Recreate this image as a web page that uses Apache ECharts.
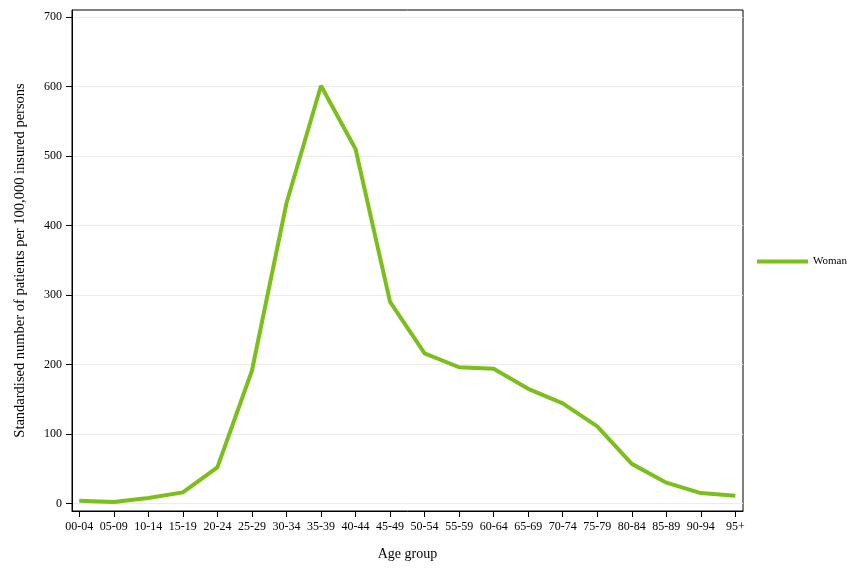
<!DOCTYPE html>
<html>
<head>
<meta charset="utf-8">
<script src="https://cdn.jsdelivr.net/npm/echarts@6/dist/echarts.min.js"></script>
<style>html,body{margin:0;padding:0;background:#fff}#c{width:864px;height:576px}</style>
</head>
<body>
<div id="c"></div>
<script>
const categories = ['00-04','05-09','10-14','15-19','20-24','25-29','30-34','35-39','40-44','45-49','50-54','55-59','60-64','65-69','70-74','75-79','80-84','85-89','90-94','95+'];
const womanValues = [4, 2, 8, 16, 52, 191, 432, 601, 510, 290, 216, 196, 194, 165, 144, 111, 57, 30, 15, 11];
const yTicks = [0, 100, 200, 300, 400, 500, 600, 700];
const seriesName = 'Woman';

const xIdx = categories.map((c, i) => i);
const chart = echarts.init(document.getElementById('c'));
const font = 'Liberation Serif';
chart.setOption({
  animation: false,
  backgroundColor: '#fff',
  textStyle: { fontFamily: font },
  grid: { left: 72, right: 121, top: 10, bottom: 65, show: true, borderColor: '#000', borderWidth: 1, backgroundColor: 'transparent' },
  legend: {
    data: [{ name: seriesName, icon: 'rect' }], left: 752, top: 251, itemWidth: 51, itemHeight: 4, itemGap: 4,
    textStyle: { fontFamily: font, fontSize: 11, color: '#000' }
  },
  xAxis: {
    type: 'value', min: -0.21, max: 19.22,
    name: 'Age group', nameLocation: 'middle', nameGap: 36,
    nameTextStyle: { fontFamily: font, fontSize: 14, color: '#000' },
    axisLine: { show: true, onZero: false, lineStyle: { color: '#000' } },
    axisTick: { show: true, length: 6, lineStyle: { color: '#000' }, customValues: xIdx },
    axisLabel: { fontFamily: font, fontSize: 12, color: '#000', margin: 10, customValues: xIdx,
      formatter: v => categories[Math.round(v)] },
    splitLine: { show: false }
  },
  yAxis: {
    type: 'value', min: -10.8, max: 710,
    name: 'Standardised number of patients per 100,000 insured persons', nameLocation: 'middle', nameGap: 44,
    nameTextStyle: { fontFamily: font, fontSize: 14.5, color: '#000' },
    axisLine: { show: true, onZero: false, lineStyle: { color: '#000' } },
    axisTick: { show: true, length: 6, lineStyle: { color: '#000' }, customValues: yTicks },
    axisLabel: { fontFamily: font, fontSize: 12, color: '#000', margin: 10, customValues: yTicks },
    splitLine: { show: true, lineStyle: { color: '#ebebeb', width: 1 } }
  },
  series: [{
    name: seriesName, type: 'line', symbol: 'none',
    data: womanValues.map((v, i) => [xIdx[i], v]),
    lineStyle: { color: '#7cbf1d', width: 4 },
    itemStyle: { color: '#7cbf1d' }
  }]
});
</script>
</body>
</html>
